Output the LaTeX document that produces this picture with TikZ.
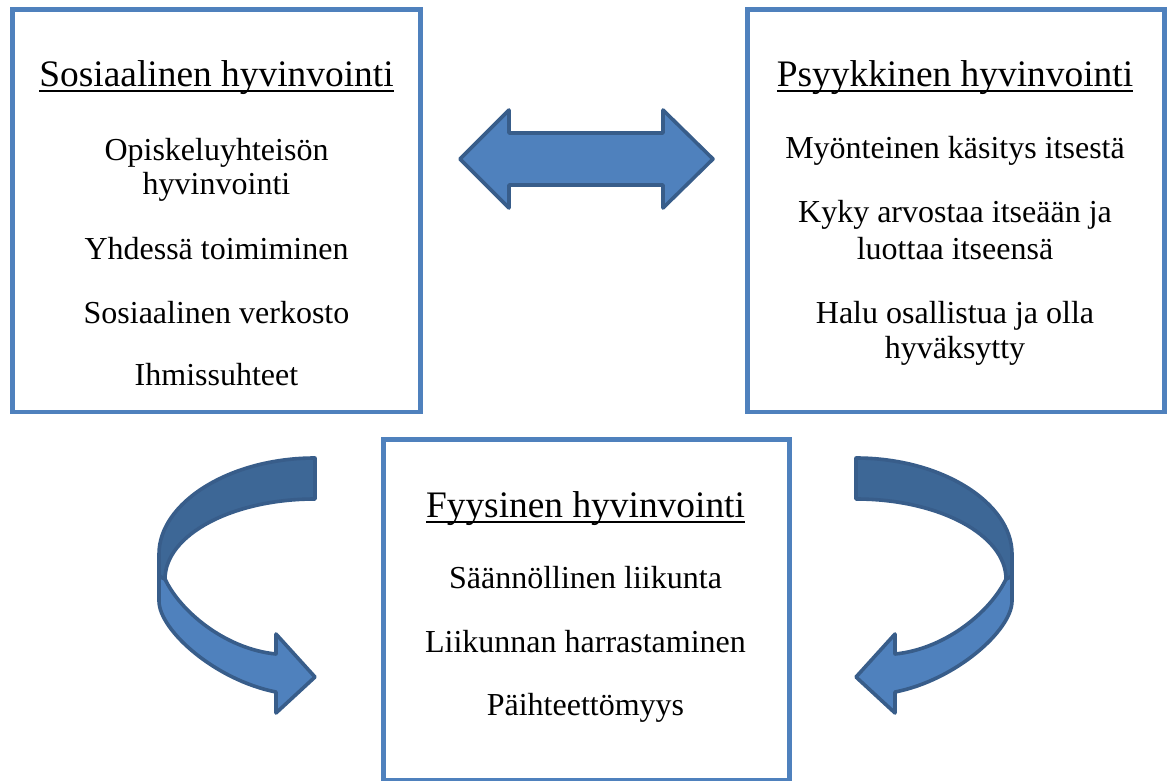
\documentclass[tikz,border=0pt]{standalone}
\usepackage{fontspec}
\setmainfont{Liberation Serif}
\definecolor{toimistosin}{HTML}{4F81BD}
\definecolor{reunasin}{HTML}{385D8A}
\definecolor{tummasin}{HTML}{3D6796}
\tikzset{
  laatikko/.style={draw=toimistosin,line width=4.5pt,inner sep=0pt,outer sep=0pt},
  otsikko/.style={font=\fontsize{37.4}{43}\selectfont,anchor=base,inner sep=0pt,outer sep=0pt},
  rivi/.style={font=\fontsize{32}{36.8}\selectfont,anchor=base,inner sep=0pt},
  alleviivaus/.style={line width=2pt,black},
  nuoli/.style={fill=toimistosin,draw=reunasin,line width=3.6pt,line join=round},
  kaarinuoli/.pic={
    % etuosa (vaalea)
    \draw[nuoli] (-156,118) -- (-156,143) .. controls (-156,172) and (-100,222) .. (-39,234)
      -- (-39,255) -- (0,219) -- (-39,176) -- (-39,196)
      .. controls (-90,191) and (-135,153) .. (-150,121) -- cycle;
    % takaosa (tumma)
    \draw[nuoli,fill=tummasin] (0,0) .. controls (-86,0) and (-156,45) .. (-156,96) -- (-156,118)
      -- (-150,121) .. controls (-150,77) and (-83,41) .. (0,41) -- cycle;
  }
}

\begin{document}
\begin{tikzpicture}[x=1pt,y=-1pt]
\useasboundingbox (0,0) rectangle (1169,781);
% laatikot
\node[laatikko,minimum width=408.4pt,minimum height=402.7pt] (sosiaalinen) at (216.5,210.65) {};
\node[laatikko,minimum width=417.4pt,minimum height=402.7pt] (psyykkinen) at (956,210.65) {};
\node[laatikko,minimum width=406.4pt,minimum height=341.2pt] (fyysinen) at (586.5,609.9) {};
% sosiaalinen
\node[otsikko] (sos-otsikko) at (216.5,87) {Sosiaalinen hyvinvointi};
\draw[alleviivaus] ([yshift=-4.5pt]sos-otsikko.base west) -- ([yshift=-4.5pt]sos-otsikko.base east);
\node[rivi] (sos1a) at (216.5,160) {Opiskeluyhteisön};
\node[rivi] (sos1b) at (216.5,194) {hyvinvointi};
\node[rivi] (sos2) at (216.5,259) {Yhdessä toimiminen};
\node[rivi] (sos3) at (216.5,323) {Sosiaalinen verkosto};
\node[rivi] (sos4) at (216.5,385) {Ihmissuhteet};
% psyykkinen
\node[otsikko] (psy-otsikko) at (955,87) {Psyykkinen hyvinvointi};
\draw[alleviivaus] ([yshift=-4.5pt]psy-otsikko.base west) -- ([yshift=-4.5pt]psy-otsikko.base east);
\node[rivi] (psy1) at (955,158) {Myönteinen käsitys itsestä};
\node[rivi] (psy2a) at (955,222) {Kyky arvostaa itseään ja};
\node[rivi] (psy2b) at (955,259) {luottaa itseensä};
\node[rivi] (psy3a) at (955,323) {Halu osallistua ja olla};
\node[rivi] (psy3b) at (955,358) {hyväksytty};
% fyysinen
\node[otsikko] (fyy-otsikko) at (585.5,517) {Fyysinen hyvinvointi};
\draw[alleviivaus] ([yshift=-4.5pt]fyy-otsikko.base west) -- ([yshift=-4.5pt]fyy-otsikko.base east);
\node[rivi] (fyy1) at (585.5,588) {Säännöllinen liikunta};
\node[rivi] (fyy2) at (585.5,652) {Liikunnan harrastaminen};
\node[rivi] (fyy3) at (585.5,715) {Päihteettömyys};
% nuolet
\draw[nuoli] (460,159) -- (509,110) -- (509,133) -- (663,133) -- (663,110) -- (713,159)
  -- (663,208) -- (663,185) -- (509,185) -- (509,208) -- cycle;
\pic at (315,458) {kaarinuoli};
\pic[xscale=-1] at (856,458) {kaarinuoli};
\end{tikzpicture}
\end{document}
